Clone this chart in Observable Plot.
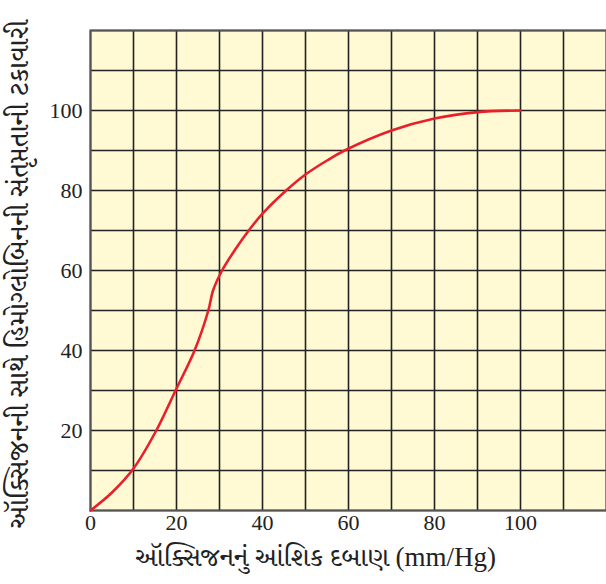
<!DOCTYPE html>
<html>
<head>
<meta charset="utf-8">
<script src="https://cdn.jsdelivr.net/npm/d3@7"></script>
<script src="https://cdn.jsdelivr.net/npm/@observablehq/plot@0.6"></script>
<style>
  html, body { margin: 0; padding: 0; background: #fff; }
</style>
</head>
<body>
<div id="chart"></div>
<script>
// Partial pressure of oxygen (mm/Hg)
const pressure = [0, 5, 10, 15.3, 20, 24.2, 27.4, 28.5, 30.6, 33.5, 36.8, 40, 45.5, 50, 55, 59.1, 70, 80, 90, 100];
// Percent saturation of hemoglobin with oxygen
const saturation = [0, 4.5, 10.5, 20, 30.5, 40, 50, 55, 60, 65, 70, 74.2, 80, 84, 87.5, 90, 95, 98, 99.6, 100];
const xTicks = [0, 20, 40, 60, 80, 100];
const yTicks = [20, 40, 60, 80, 100];
const gridSteps = d3.range(0, 121, 10);
const xLabel = "ઑક્સિજનનું આંશિક દબાણ (mm/Hg)";
const yLabel = "ઑક્સિજનની સાથે હિમોગ્લોબિનની સંતૃપ્તતાની ટકાવારી";

const curve = pressure.map((p, i) => ({p, s: saturation[i]}));
const labelFont = "'Liberation Serif', 'Noto Serif Gujarati', 'Noto Sans Gujarati', serif";

const chart = Plot.plot({
  width: 606,
  height: 584,
  marginLeft: 90,
  marginRight: 0,
  marginTop: 30,
  marginBottom: 74,
  style: {fontFamily: "'Liberation Serif', serif", fontSize: "22px", background: "#fff", overflow: "visible"},
  x: {domain: [0, 120], axis: null, label: null},
  y: {domain: [0, 120], axis: null, label: null},
  marks: [
    Plot.frame({fill: "#fff9d4", stroke: "none"}),
    Plot.gridX(gridSteps, {stroke: "#222", strokeOpacity: 1, strokeWidth: 1.6}),
    Plot.gridY(gridSteps, {stroke: "#222", strokeOpacity: 1, strokeWidth: 1.6}),
    Plot.frame({stroke: "#555", strokeWidth: 2}),
    Plot.line(curve, {x: "p", y: "s", stroke: "#e8202a", strokeWidth: 2.6, curve: "catmull-rom"}),
    Plot.axisX(xTicks, {tickSize: 0, tickPadding: 4, fontSize: 22, fill: "#222", label: null}),
    Plot.axisY(yTicks, {tickSize: 0, tickPadding: 8, fontSize: 22, fill: "#222", label: null}),
    Plot.text([xLabel], {frameAnchor: "bottom", textAnchor: "middle", dx: -33, dy: 55, fontSize: 27, fill: "#222", fontFamily: labelFont}),
    Plot.text([yLabel], {frameAnchor: "left", textAnchor: "middle", dx: -71, dy: 4, rotate: -90, fontSize: 28, fill: "#222", fontFamily: labelFont})
  ]
});
document.getElementById("chart").appendChild(chart);
</script>
</body>
</html>
